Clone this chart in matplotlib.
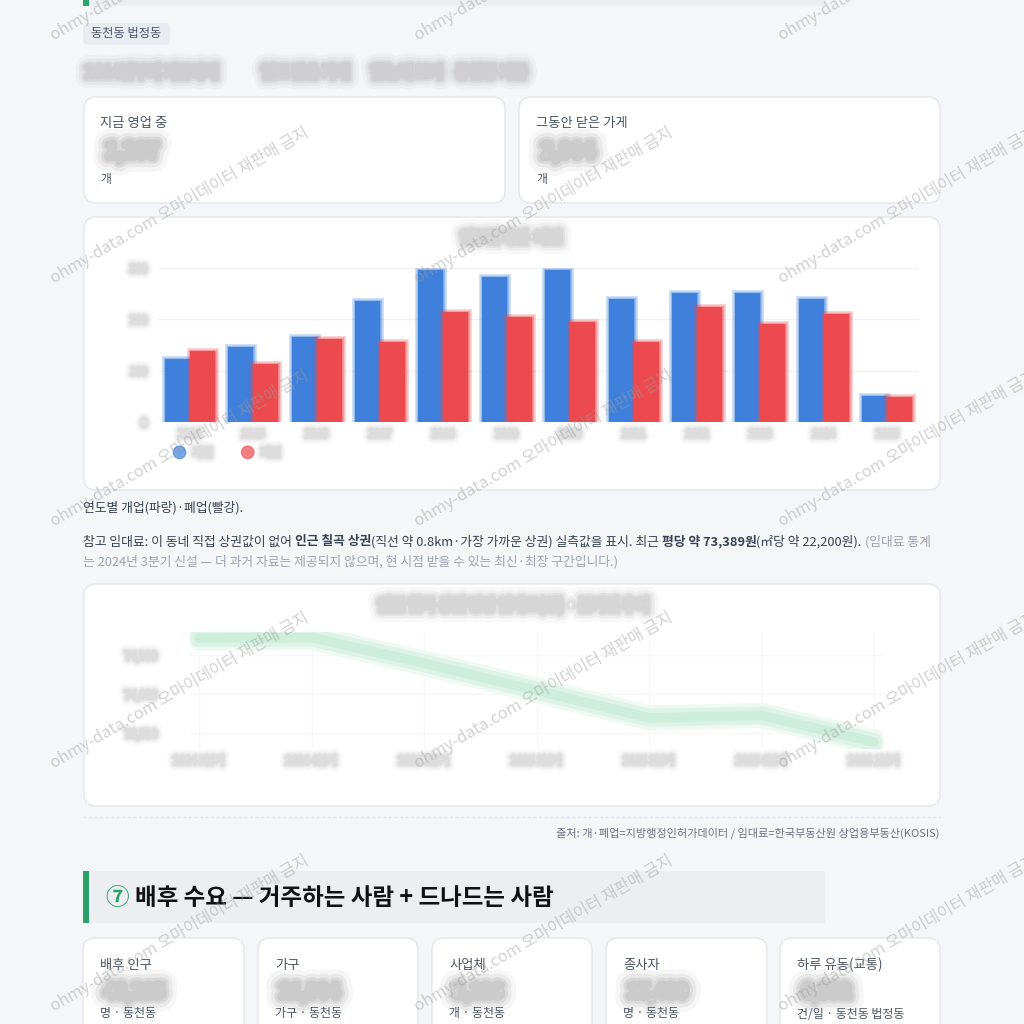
import matplotlib
matplotlib.use('Agg')
import matplotlib.pyplot as plt
import matplotlib.patheffects as pe
from matplotlib.patches import FancyBboxPatch, Rectangle
from matplotlib.lines import Line2D
import numpy as np

plt.rcParams['font.family'] = ['Noto Sans CJK KR', 'DejaVu Sans']

# ---------------------------------------------------------------------------
# data (read off the blurred reference, so values are estimates)
years = ['2014', '2015', '2016', '2017', '2018', '2019', '2020', '2021', '2022', '2023', '2024', '2025']
opened = [122, 146, 165, 235, 297, 283, 297, 239, 252, 252, 239, 50]
closed = [138, 113, 161, 155, 215, 204, 194, 155, 225, 190, 210, 48]
bar_ticks = [0, 100, 200, 300]
bar_labels = ['개업', '폐업']

quarters = ['2024 3분기', '2024 4분기', '2025 1분기', '2025 2분기', '2025 3분기', '2025 4분기', '2026 1분기']
rent = [74720, 74730, 74400, 74050, 73700, 73730, 73389]
rent_ticks = [73500, 74000, 74500]

demand_titles = ['배후 인구', '가구', '사업체', '종사자', '하루 유동(교통)']
demand_values = ['48,215', '21,904', '3,126', '17,480', '6,352']
demand_units = ['명 · 동천동', '가구 · 동천동', '개 · 동천동', '명 · 동천동', '건/일 · 동천동 법정동']

W = 1024
BG = '#f5f6f8'
BLUE = '#3f80dc'
RED = '#ec4a4f'
GREEN = '#2aa36b'
DARK = '#374151'
GREY = '#9ca3af'

fig = plt.figure(figsize=(10.24, 10.24), dpi=100, facecolor=BG)
renderer = fig.canvas.get_renderer()

# page axes in pixel coordinates (y grows downwards)
page = fig.add_axes([0, 0, 1, 1])
page.set_xlim(0, W)
page.set_ylim(W, 0)
page.axis('off')
page.set_zorder(0)


class Smudge(pe.AbstractPathEffect):
    """draws only a wide soft outline of the glyphs, no fill"""

    def __init__(self, lw, color, alpha):
        super().__init__()
        self.lw, self.color, self.alpha = lw, color, alpha

    def draw_path(self, renderer, gc, tpath, affine, rgbFace=None):
        gc0 = renderer.new_gc()
        gc0.copy_properties(gc)
        gc0.set_linewidth(self.lw)
        gc0.set_foreground(self.color)
        gc0.set_alpha(self.alpha)
        gc0.set_joinstyle('round')
        gc0.set_capstyle('round')
        renderer.draw_path(gc0, tpath, affine, None)
        gc0.restore()


def px_axes(x0, y0, x1, y1):
    a = fig.add_axes([x0 / W, 1 - y1 / W, (x1 - x0) / W, (y1 - y0) / W])
    a.set_zorder(1)
    a.patch.set_alpha(0)
    return a


def text_width(s, size, weight='normal'):
    t = page.text(0, 0, s, fontsize=size, fontweight=weight)
    w = t.get_window_extent(renderer=renderer).width
    t.remove()
    return w


def adv(s, size, weight):
    # trailing spaces are counted by measuring against a bar character
    return text_width(s + '|', size, weight) - text_width('|', size, weight)


def fit(s, target, weight='normal'):
    return 10 * target / adv(s, 10, weight)


def blur(color='#777777', strength=1.0):
    return [Smudge(16 * strength, color, 0.06),
            Smudge(11 * strength, color, 0.09),
            Smudge(7 * strength, color, 0.12),
            Smudge(4 * strength, color, 0.12)]


def runs(x, y, parts, size):
    for s, w, c in parts:
        page.text(x, y, s, fontsize=size, fontweight=w, color=c, va='center', ha='left')
        x += adv(s, size, w)


def card(x0, y0, x1, y1, r=12):
    page.add_patch(FancyBboxPatch((x0, y0), x1 - x0, y1 - y0,
                                  boxstyle='round,pad=0,rounding_size=%d' % r,
                                  facecolor='white', edgecolor='#e3e6ea', linewidth=1))


def blurred(x, y, s, size, color='#808080', weight='bold', ha='left', strength=1.0):
    page.text(x, y, s, fontsize=size, fontweight=weight, color=color,
              ha=ha, va='center', path_effects=blur(color, strength))


def soften(labels, strength=0.6):
    for lbl in labels:
        lbl.set_path_effects(blur('#a0a0a0', strength))


# ---------------------------------------------------------------------------
# top remains of previous section header
page.add_patch(Rectangle((83, -20), 825 - 83, 26, facecolor='#eceef1', edgecolor='none'))
page.add_patch(Rectangle((83, -20), 6, 26, facecolor=GREEN, edgecolor='none'))

# pill
page.add_patch(FancyBboxPatch((83, 23), 87, 22, boxstyle='round,pad=0,rounding_size=5',
                              facecolor='#e8ecf1', edgecolor='none'))
page.text(91, 34, '동천동 법정동', fontsize=fit('동천동 법정동', 70), color='#4b5563', va='center')

# blurred subtitle
for xs, s in [(86, '2014년부터 지금까지'), (262, '열고 닫은 가게'), (372, '한눈에 보기'), (456, '동천동 기준')]:
    blurred(xs, 72, s, 10.5, color='#8a8a8a', strength=1.0)

# two stat cards
lab_fs = fit('지금 영업 중', 67)
card(84, 97, 505, 203)
card(519, 97, 940, 203)
for cx, lab, val in [(100, '지금 영업 중', '1,287'), (536, '그동안 닫은 가게', '2,904')]:
    page.text(cx, 123, lab, fontsize=lab_fs, color='#4b5563', va='center')
    blurred(cx + 6, 152, val, 14, color='#6a6a6a', strength=1.3)
    page.text(cx, 180, '개', fontsize=lab_fs * 0.9, color='#4b5563', va='center')

# ---------------------------------------------------------------------------
# bar chart card
card(84, 217, 940, 490)
blurred(511, 238, '연도별 개업·폐업', 10, color='#8a8a8a', ha='center', strength=1.0)

ax1 = px_axes(158, 268, 919, 422)
x = np.arange(len(years))
bw = 0.394
b1 = ax1.bar(x - bw / 2, opened, bw, color=BLUE, zorder=2)
b2 = ax1.bar(x + bw / 2, closed, bw, color=RED, zorder=2)
for bars, c in [(b1, BLUE), (b2, RED)]:
    for b in bars:
        b.set_path_effects([pe.Stroke(linewidth=5, foreground=c, alpha=0.25),
                            pe.Stroke(linewidth=2.5, foreground=c, alpha=0.4), pe.Normal()])
ax1.set_xlim(-0.5, len(years) - 0.5)
ax1.set_ylim(0, 300)
ax1.set_yticks(bar_ticks)
ax1.set_xticks(x)
ax1.set_xticklabels(years)
ax1.grid(axis='y', color='#f1f2f4', linewidth=1, zorder=0)
ax1.tick_params(length=0, labelsize=7, labelcolor='#a0a0a0')
ax1.tick_params(axis='y', pad=8)
ax1.tick_params(axis='x', pad=5)
for s in ax1.spines.values():
    s.set_visible(False)
soften(ax1.get_xticklabels() + ax1.get_yticklabels())

handles = [Line2D([], [], marker='o', linestyle='', markersize=9, color=BLUE, alpha=0.6),
           Line2D([], [], marker='o', linestyle='', markersize=9, color=RED, alpha=0.6)]
leg = ax1.legend(handles, bar_labels, loc='center left', bbox_to_anchor=(166 / W, 1 - 453 / W),
                 bbox_transform=fig.transFigure, ncol=2, frameon=False, fontsize=7.5,
                 handletextpad=0.9, columnspacing=3.0, handlelength=0.8)
for h in leg.legend_handles:
    h.set_path_effects([pe.Stroke(linewidth=4, foreground='white', alpha=0.3), pe.Normal()])
for t in leg.get_texts():
    t.set_color('#a0a0a0')
soften(leg.get_texts())

# captions
p_parts1 = [('참고 임대료: 이 동네 직접 상권값이 없어 ', 'normal', DARK),
            ('인근 칠곡 상권', 'bold', DARK),
            ('(직선 약 0.8km·가장 가까운 상권) 실측값을 표시. 최근 ', 'normal', DARK),
            ('평당 약 73,389원', 'bold', DARK),
            ('(㎡당 약 22,200원). ', 'normal', DARK),
            ('(임대료 통계', 'normal', GREY)]
total = sum(adv(s, 10, w) for s, w, c in p_parts1)
p_fs = 10 * 850 / total
runs(83, 508, [('연도별 개업(파랑)·폐업(빨강).', 'normal', DARK)], p_fs)
runs(83, 542, p_parts1, p_fs)
runs(83, 562, [('는 2024년 3분기 신설 — 더 과거 자료는 제공되지 않으며, 현 시점 받을 수 있는 최신·최장 구간입니다.)',
                'normal', GREY)], p_fs)

# ---------------------------------------------------------------------------
# rent line chart card
card(84, 584, 940, 806)
blurred(513, 605, '인근 칠곡 상권 평당 임대료(원) · 분기별 추이', 10.5, color='#8a8a8a', ha='center', strength=1.0)

ax2 = px_axes(190, 632, 883, 749)
xq = np.arange(len(quarters))
ax2.plot(xq, rent, color='#eef9f3', linewidth=18, solid_capstyle='round', solid_joinstyle='round', zorder=2)
ax2.plot(xq, rent, color='#def3e8', linewidth=13, solid_capstyle='round', solid_joinstyle='round', zorder=3)
ax2.plot(xq, rent, color='#cdeedc', linewidth=7, solid_capstyle='round', solid_joinstyle='round', zorder=4)
ax2.set_xlim(-0.08, len(quarters) - 1 + 0.08)
ax2.set_ylim(73300, 74800)
ax2.set_xticks(xq)
ax2.set_xticklabels(quarters)
ax2.set_yticks(rent_ticks)
ax2.set_yticklabels(['{:,}'.format(v) for v in rent_ticks])
ax2.grid(color='#f6f7f8', linewidth=1, zorder=0)
ax2.tick_params(length=0, labelsize=7.5, labelcolor='#a0a0a0')
ax2.tick_params(axis='y', pad=24)
ax2.tick_params(axis='x', pad=5)
for s in ax2.spines.values():
    s.set_visible(False)
soften(ax2.get_xticklabels() + ax2.get_yticklabels())

# source line
page.plot([83, 940], [817, 817], color='#e2e5e9', linewidth=1, linestyle=(0, (2, 2)))
src = '출처: 개·폐업=지방행정인허가데이터 / 임대료=한국부동산원 상업용부동산(KOSIS)'
page.text(940, 833, src, fontsize=fit(src, 385), color='#6b7280', ha='right', va='center')

# ---------------------------------------------------------------------------
# section 7 header
page.add_patch(Rectangle((83, 871), 825 - 83, 52, facecolor='#eceef1', edgecolor='none'))
page.add_patch(Rectangle((83, 871), 6, 52, facecolor=GREEN, edgecolor='none'))
head = [('⑦ ', 'bold', GREEN), ('배후 수요 — 거주하는 사람 + 드나드는 사람', 'bold', '#111111')]
h_fs = 10 * 446 / sum(adv(s, 10, w) for s, w, c in head)
runs(106, 898, head, h_fs)

# five demand cards
card_x = [(83, 244), (258, 418), (432, 592), (606, 767), (780, 940)]
for (x0, x1), t, v, u in zip(card_x, demand_titles, demand_values, demand_units):
    card(x0, 938, x1, 1060)
    page.text(x0 + 17, 965, t, fontsize=lab_fs, color='#4b5563', va='center')
    blurred(x0 + 22, 992, v, 13, color='#6a6a6a', strength=1.3)
    page.text(x0 + 17, 1014, u, fontsize=lab_fs * 0.9, color='#4b5563', va='center')

# ---------------------------------------------------------------------------
# watermark
wm = 'ohmy-data.com 오마이데이터 재판매 금지'
wm_fs = fit(wm, 296)
for cx in [180, 544, 908]:
    for cy in [-38, 205, 448, 690, 933, 1176]:
        fig.text(cx / W, 1 - cy / W, wm, fontsize=wm_fs, rotation=30, rotation_mode='anchor',
                 ha='center', va='center', color='#9a9a9a', alpha=0.45, zorder=10)

fig.savefig('out.png', dpi=100, facecolor=BG)
